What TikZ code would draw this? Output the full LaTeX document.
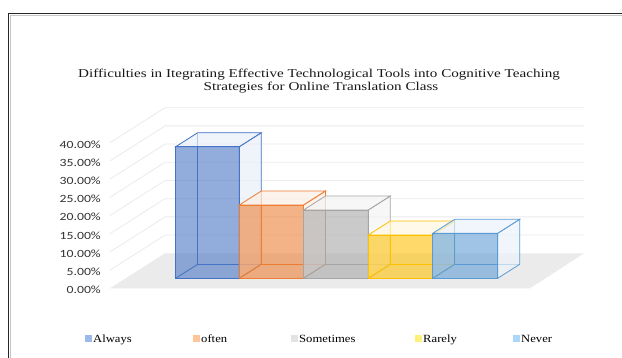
\documentclass[tikz,border=0pt]{standalone}
\usepackage{fontspec}
\setmainfont{Liberation Serif}
\newfontfamily\titlefont[FakeStretch=1.26]{Liberation Serif}
\newfontfamily\legendfont[FakeStretch=1.15]{Liberation Serif}
\newfontfamily\axisfont[FakeStretch=1.25]{Carlito}
\definecolor{cAlways}{HTML}{4472C4}
\definecolor{cOften}{HTML}{ED7D31}
\definecolor{cSome}{HTML}{A5A5A5}
\definecolor{cRare}{HTML}{FFC000}
\definecolor{cNever}{HTML}{5B9BD5}
\definecolor{lAlways}{HTML}{9DB9EC}
\definecolor{lOften}{HTML}{FFC59A}
\definecolor{lSome}{HTML}{E3E3E3}
\definecolor{lRare}{HTML}{FFF07A}
\definecolor{lNever}{HTML}{ABD6F7}
\definecolor{frame}{HTML}{262626}
\definecolor{gridc}{HTML}{EBEBEB}
\definecolor{floorc}{HTML}{EBEBEB}
\definecolor{axistext}{HTML}{333333}
\newcommand\mybox[4]{%
  % #1 x0, #2 x1, #3 top y front, #4 edge colour
  \draw[#4, line width=0.8pt] (#1+22,#3-14) -- (#1+22,264.3) -- (#2+22,264.3);
  \draw[#4, line width=0.8pt] (#1,278.3) -- (#1+22,264.3);
  \filldraw[fill=#4!12, fill opacity=0.7, draw=#4, line width=0.8pt]
    (#2,278.3) -- (#2+22,264.3) -- (#2+22,#3-14) -- (#2,#3) -- cycle;
  \filldraw[fill=#4!12, fill opacity=0.7, draw=#4, line width=0.8pt]
    (#1,#3) -- (#1+22,#3-14) -- (#2+22,#3-14) -- (#2,#3) -- cycle;
  \filldraw[fill=#4, fill opacity=0.58, draw=#4, line width=0.8pt]
    (#1,278.3) rectangle (#2,#3);
}
\tikzset{
  axislbl/.style={anchor=east, inner sep=0pt, text=axistext, font=\axisfont\fontsize{11}{11}\selectfont},
  legsq/.style={minimum size=7pt, inner sep=0pt},
  legtxt/.style={anchor=base west, inner sep=0pt, font=\legendfont\fontsize{11}{11}\selectfont},
  ttl/.style={inner sep=0pt, text=black!90, font=\titlefont\fontsize{12}{13}\selectfont}
}
\begin{document}
\begin{tikzpicture}[x=1pt,y=-1pt]
\useasboundingbox (0,0) rectangle (622,358);
\fill[white] (0,0) rectangle (622,358);
% frame
\draw[gray!45, line width=0.7pt] (10.2,358) -- (10.2,15.2) -- (622,15.2);
\draw[frame, line width=1.3pt] (8.5,358) -- (8.5,13.5) -- (622,13.5);
% title
\node[ttl] (t1) at (319,75) {Difficulties in Itegrating Effective Technological Tools into Cognitive Teaching};
\node[ttl] (t2) at (321,88) {Strategies for Online Translation Class};
% floor
\fill[floorc] (110,288.3) -- (530,288.3) -- (584,253.3) -- (165,253.3) -- cycle;
% gridlines
\foreach \v in {5,10,...,40} {
  \draw[gridc, line width=0.8pt] (110,288.3-\v*3.64) -- (165,253.3-\v*3.64) -- (584,253.3-\v*3.64);
}
% axis labels
\foreach \v/\t in {0/0.00,5/5.00,10/10.00,15/15.00,20/20.00,25/25.00,30/30.00,35/35.00,40/40.00} {
  \node[axislbl] at (101,290-\v*3.64) {\t\%};
}
% bars
\mybox{175.7}{239.3}{146.7}{cAlways}
\mybox{239.3}{303.5}{205}{cOften}
\mybox{303.5}{368.3}{210}{cSome}
\mybox{368.3}{432.7}{235}{cRare}
\mybox{432.7}{497.7}{233.3}{cNever}
% legend
\node[legsq, fill=lAlways] (s1) at (88,339) {};
\node[legtxt] (l1) at (93,342.5) {Always};
\node[legsq, fill=lOften] (s2) at (196.5,339) {};
\node[legtxt] (l2) at (201,342.5) {often};
\node[legsq, fill=lSome] (s3) at (294.5,339) {};
\node[legtxt] (l3) at (299,342.5) {Sometimes};
\node[legsq, fill=lRare] (s4) at (418.5,339) {};
\node[legtxt] (l4) at (423,342.5) {Rarely};
\node[legsq, fill=lNever] (s5) at (516.5,339) {};
\node[legtxt] (l5) at (521,342.5) {Never};
\end{tikzpicture}
\end{document}
